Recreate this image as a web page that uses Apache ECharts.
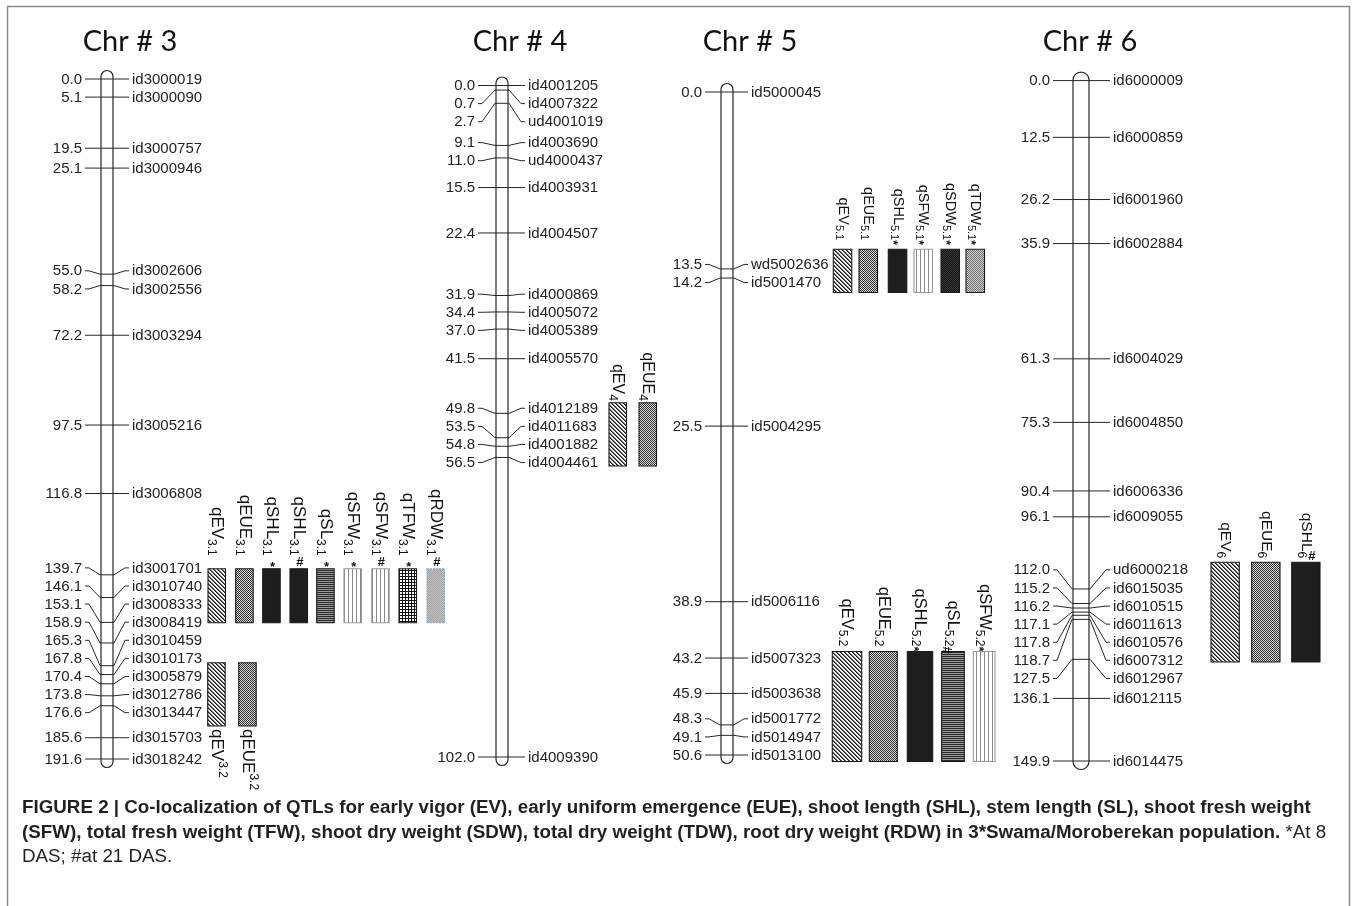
<!DOCTYPE html>
<html><head><meta charset="utf-8">
<script src="https://cdn.jsdelivr.net/npm/echarts@6/dist/echarts.min.js"></script>
<style>html,body{margin:0;padding:0;background:#fff}#c{width:1358px;height:906px}</style>
</head><body><div id="c"></div><script>
// ---------------- DATA ----------------
const chromTitles = ['Chr # 3', 'Chr # 4', 'Chr # 5', 'Chr # 6'];

const chr3Pos = [0.0, 5.1, 19.5, 25.1, 55.0, 58.2, 72.2, 97.5, 116.8, 139.7, 146.1, 153.1, 158.9, 165.3, 167.8, 170.4, 173.8, 176.6, 185.6, 191.6];
const chr3Markers = ['id3000019', 'id3000090', 'id3000757', 'id3000946', 'id3002606', 'id3002556', 'id3003294', 'id3005216', 'id3006808', 'id3001701', 'id3010740', 'id3008333', 'id3008419', 'id3010459', 'id3010173', 'id3005879', 'id3012786', 'id3013447', 'id3015703', 'id3018242'];

const chr4Pos = [0.0, 0.7, 2.7, 9.1, 11.0, 15.5, 22.4, 31.9, 34.4, 37.0, 41.5, 49.8, 53.5, 54.8, 56.5, 102.0];
const chr4Markers = ['id4001205', 'id4007322', 'ud4001019', 'id4003690', 'ud4000437', 'id4003931', 'id4004507', 'id4000869', 'id4005072', 'id4005389', 'id4005570', 'id4012189', 'id4011683', 'id4001882', 'id4004461', 'id4009390'];

const chr5Pos = [0.0, 13.5, 14.2, 25.5, 38.9, 43.2, 45.9, 48.3, 49.1, 50.6];
const chr5Markers = ['id5000045', 'wd5002636', 'id5001470', 'id5004295', 'id5006116', 'id5007323', 'id5003638', 'id5001772', 'id5014947', 'id5013100'];

const chr6Pos = [0.0, 12.5, 26.2, 35.9, 61.3, 75.3, 90.4, 96.1, 112.0, 115.2, 116.2, 117.1, 117.8, 118.7, 127.5, 136.1, 149.9];
const chr6Markers = ['id6000009', 'id6000859', 'id6001960', 'id6002884', 'id6004029', 'id6004850', 'id6006336', 'id6009055', 'ud6000218', 'id6015035', 'id6010515', 'id6011613', 'id6010576', 'id6007312', 'id6012967', 'id6012115', 'id6014475'];

// QTL groups: interval (cM), names, marks, traits
const q31Range = [138.0, 153.2];
const q31Names = ['qEV', 'qEUE', 'qSHL', 'qSHL', 'qSL', 'qSFW', 'qSFW', 'qTFW', 'qRDW'];
const q31Marks = ['', '', '*', '#', '*', '*', '#', '*', '#'];
const q31Traits = ['EV', 'EUE', 'SHL', 'SHL', 'SL', 'SFW', 'SFW', 'TFW', 'RDW'];

const q32Range = [164.5, 182.3];
const q32Names = ['qEV', 'qEUE'];
const q32Marks = ['', ''];
const q32Traits = ['EV', 'EUE'];

const q4Range = [48.2, 57.8];
const q4Names = ['qEV', 'qEUE'];
const q4Marks = ['', ''];
const q4Traits = ['EV', 'EUE'];

const q51Range = [12.0, 15.3];
const q51Names = ['qEV', 'qEUE', 'qSHL', 'qSFW', 'qSDW', 'qTDW'];
const q51Marks = ['', '', '*', '*', '*', '*'];
const q51Traits = ['EV', 'EUE', 'SHL', 'SFW', 'SDW', 'TDW'];

const q52Range = [42.7, 51.1];
const q52Names = ['qEV', 'qEUE', 'qSHL', 'qSL', 'qSFW'];
const q52Marks = ['', '', '*', '#', '*'];
const q52Traits = ['EV', 'EUE', 'SHL', 'SL', 'SFW'];

const q6Range = [106.1, 128.1];
const q6Names = ['qEV', 'qEUE', 'qSHL'];
const q6Marks = ['', '', '#'];
const q6Traits = ['EV', 'EUE', 'SHL'];

const captionLine1 = 'FIGURE 2 | Co-localization of QTLs for early vigor (EV), early uniform emergence (EUE), shoot length (SHL), stem length (SL), shoot fresh weight';
const captionLine2Bold = '(SFW), total fresh weight (TFW), shoot dry weight (SDW), total dry weight (TDW), root dry weight (RDW) in 3*Swama/Moroberekan population.';
const captionLine2Normal = ' *At 8';
const captionLine3 = 'DAS; #at 21 DAS.';

// ---------------- LAYOUT (pixels) ----------------
const CHROMS = [
  {pos: chr3Pos, markers: chr3Markers},
  {pos: chr4Pos, markers: chr4Markers},
  {pos: chr5Pos, markers: chr5Markers},
  {pos: chr6Pos, markers: chr6Markers}
];
const LAYOUT = [
  {top: 79, bottom: 759, bodyL: 101, bodyR: 113, leftText: 82, rightText: 132, titleX: 130},
  {top: 85.5, bottom: 757, bodyL: 496, bodyR: 508, leftText: 475, rightText: 528, titleX: 520},
  {top: 92, bottom: 755, bodyL: 721, bodyR: 733, leftText: 702, rightText: 751, titleX: 750},
  {top: 80.6, bottom: 761, bodyL: 1073, bodyR: 1089, leftText: 1050, rightText: 1113, titleX: 1090}
];
const QTL_GROUPS = [
  {chrom: 0, range: q31Range, names: q31Names, marks: q31Marks, traits: q31Traits, sub: '3.1',
   xs: [208, 235.7, 262.7, 290, 316.7, 344, 371.7, 399, 427], ws: 17.5,
   font: 17, subFont: 12, gap: 13, subDx: -5, markMode: 'sup', markDx: 1, below: false},
  {chrom: 0, range: q32Range, names: q32Names, marks: q32Marks, traits: q32Traits, sub: '3.2',
   xs: [207.7, 238.7], ws: 17.5,
   font: 17, subFont: 12, gap: 3, subDx: 6, markMode: 'sup', markDx: 1, below: true},
  {chrom: 1, range: q4Range, names: q4Names, marks: q4Marks, traits: q4Traits, sub: '4',
   xs: [609, 639], ws: 17.5,
   font: 16, subFont: 12, gap: 2, subDx: -5, markMode: 'sup', markDx: 1, below: false},
  {chrom: 2, range: q51Range, names: q51Names, marks: q51Marks, traits: q51Traits, sub: '5.1',
   xs: [833.3, 859, 888.3, 914, 941, 966], ws: 18.5,
   font: 14.5, subFont: 11, gap: 9, subDx: -4, markMode: 'inline', markDx: 0, below: false},
  {chrom: 2, range: q52Range, names: q52Names, marks: q52Marks, traits: q52Traits, sub: '5.2',
   xs: [832.3, 869.3, 907.3, 941.7, 973.3], ws: [29.4, 28, 25.4, 22.6, 21.7],
   font: 16.5, subFont: 12, gap: 5, subDx: -5, markMode: 'inline', markDx: 0, below: false},
  {chrom: 3, range: q6Range, names: q6Names, marks: q6Marks, traits: q6Traits, sub: '6',
   xs: [1211, 1251.7, 1291.7], ws: 28.3,
   font: 15.5, subFont: 12, gap: 4, subDx: -5, markMode: 'sup', markDx: 6, below: false}
];

const FONT = '"Liberation Sans", Arial, Helvetica, sans-serif';
const LINE = '#262626';
const LABEL_GAP = 18.1;

const mctx = document.createElement('canvas').getContext('2d');
function tw(text, size, weight) {
  mctx.font = (weight || 'normal') + ' ' + size + 'px ' + FONT;
  return mctx.measureText(text).width;
}

// ---------------- PATTERNS ----------------
function tile(w, h, draw) {
  const c = document.createElement('canvas');
  c.width = w; c.height = h;
  const g = c.getContext('2d');
  draw(g);
  return {image: c, repeat: 'repeat'};
}
function px(g, color, cells) { g.fillStyle = color; cells.forEach(p => g.fillRect(p[0], p[1], 1, 1)); }
const PATTERNS = {
  EV: tile(4, 4, g => {
    g.fillStyle = '#f4f4f4'; g.fillRect(0, 0, 4, 4);
    px(g, '#1a1a1a', [[0,0],[1,1],[2,2],[3,3]]);
    px(g, '#666', [[1,0],[2,1],[3,2],[0,3]]);
  }),
  EUE: tile(2, 2, g => {
    g.fillStyle = '#dedede'; g.fillRect(0, 0, 2, 2);
    px(g, '#2a2a2a', [[0,0],[1,1]]);
  }),
  SHL: '#1e1e1e',
  SL: tile(2, 2, g => {
    g.fillStyle = '#2a2a2a'; g.fillRect(0, 0, 2, 1);
    g.fillStyle = '#9a9a9a'; g.fillRect(0, 1, 2, 1);
  }),
  SFW: tile(4, 2, g => {
    g.fillStyle = '#fff'; g.fillRect(0, 0, 4, 2);
    g.fillStyle = '#8a8a8a'; g.fillRect(0, 0, 1, 2);
  }),
  TFW: tile(3, 3, g => {
    g.fillStyle = '#111'; g.fillRect(0, 0, 3, 3);
    g.fillStyle = '#fff'; g.fillRect(1, 1, 2, 2);
  }),
  SDW: tile(2, 2, g => {
    g.fillStyle = '#121212'; g.fillRect(0, 0, 2, 2);
    px(g, '#3a3a3a', [[0,0],[1,1]]);
  }),
  TDW: tile(2, 2, g => {
    g.fillStyle = '#d0d0d0'; g.fillRect(0, 0, 2, 2);
    px(g, '#707070', [[0,0],[1,1]]);
  }),
  RDW: tile(2, 2, g => {
    g.fillStyle = '#bdbdbd'; g.fillRect(0, 0, 2, 2);
    px(g, '#a8a8a8', [[0,0],[1,1]]);
  })
};
const BORDERS = {SFW: '#9a9a9a', RDW: '#8fa3b8'};

// ---------------- LABEL LAYOUT ----------------
function layoutLabels(ys, gap, lo, hi) {
  const place = c => {
    const n = c.b - c.a;
    const mid = (ys[c.a] + ys[c.b]) / 2;
    let top = mid - n * gap / 2;
    if (top < lo) top = lo;
    if (top + n * gap > hi) top = hi - n * gap;
    c.top = top;
  };
  let cl = ys.map((y, i) => ({a: i, b: i}));
  cl.forEach(place);
  let changed = true;
  while (changed) {
    changed = false;
    for (let i = 0; i < cl.length - 1; i++) {
      const c = cl[i], d = cl[i + 1];
      if (c.top + (c.b - c.a) * gap + gap > d.top + 0.01) {
        const m = {a: c.a, b: d.b};
        place(m);
        cl.splice(i, 2, m);
        changed = true;
        break;
      }
    }
  }
  const out = [];
  cl.forEach(c => { for (let i = c.a; i <= c.b; i++) out[i] = c.top + (i - c.a) * gap; });
  return out;
}

// ---------------- SERIES ----------------
function bodySeries(ci) {
  const L = LAYOUT[ci], ch = CHROMS[ci];
  const last = ch.pos[ch.pos.length - 1];
  return {
    type: 'custom', xAxisIndex: ci, yAxisIndex: ci, z: 1, silent: true, clip: false,
    data: [[0, 0, last]], encode: {x: 0, y: 1},
    renderItem: (params, api) => {
      const y0 = api.coord([0, api.value(1)])[1];
      const y1 = api.coord([0, api.value(2)])[1];
      const w = L.bodyR - L.bodyL;
      return {type: 'rect', shape: {x: L.bodyL, y: y0 - 8.5, width: w, height: y1 - y0 + 17, r: w / 2},
        style: {fill: '#fff', stroke: LINE, lineWidth: 1.2}};
    }
  };
}

function markerSeries(ci) {
  const L = LAYOUT[ci], ch = CHROMS[ci];
  return {
    type: 'custom', xAxisIndex: ci, yAxisIndex: ci, z: 3, silent: true, clip: false,
    data: ch.pos.map((p, i) => [i, p]), encode: {x: 0, y: 1},
    renderItem: (params, api) => {
      const i = api.value(0);
      const ys = ch.pos.map(p => api.coord([0, p])[1]);
      const lys = layoutLabels(ys, LABEL_GAP, ys[0], ys[ys.length - 1]);
      const my = ys[i], ly = lys[i];
      const txt = {fontSize: 15, fontFamily: FONT, fill: '#222', verticalAlign: 'middle'};
      return {type: 'group', children: [
        {type: 'polyline', shape: {points: [[L.leftText + 3, ly], [L.leftText + 7, ly], [L.bodyL - 1, my], [L.bodyR + 1, my], [L.rightText - 7, ly], [L.rightText - 3, ly]]},
          style: {stroke: LINE, lineWidth: 1, fill: 'none'}},
        {type: 'text', x: L.leftText, y: ly + 0.5, style: Object.assign({text: ch.pos[i].toFixed(1), align: 'right'}, txt)},
        {type: 'text', x: L.rightText, y: ly + 0.5, style: Object.assign({text: ch.markers[i], align: 'left'}, txt)}
      ]};
    }
  };
}

function qtlLabelEls(cx, boxTop, boxBot, name, sub, mark, G) {
  const els = [];
  const wM = tw(name, G.font), wS = tw(sub, G.subFont);
  const start = G.below ? boxBot + G.gap : boxTop - G.gap - wS - wM;
  const base = {fontFamily: FONT, fill: '#111', align: 'left', verticalAlign: 'middle'};
  els.push({type: 'text', x: cx, y: start, rotation: -Math.PI / 2,
    style: Object.assign({text: name, fontSize: G.font}, base)});
  els.push({type: 'text', x: cx + G.subDx, y: start + wM, rotation: -Math.PI / 2,
    style: Object.assign({text: sub, fontSize: G.subFont}, base)});
  if (mark) {
    if (G.markMode === 'inline') {
      els.push({type: 'text', x: cx + G.subDx - 1, y: start + wM + wS, rotation: -Math.PI / 2,
        style: Object.assign({text: mark, fontSize: G.subFont + 1, fontWeight: 'bold'}, base)});
    } else {
      els.push({type: 'text', x: cx + G.markDx, y: boxTop - (mark === '*' ? 1 : 6),
        style: {text: mark, fontSize: 13, fontWeight: 'bold', fontFamily: FONT, fill: '#111', align: 'center', verticalAlign: 'middle'}});
    }
  }
  return els;
}

function qtlSeries(G) {
  return {
    type: 'custom', xAxisIndex: G.chrom, yAxisIndex: G.chrom, z: 4, silent: true, clip: false,
    data: G.names.map((n, k) => [k, G.range[0], G.range[1]]), encode: {x: 0, y: 1},
    renderItem: (params, api) => {
      const k = api.value(0);
      const yTop = api.coord([0, api.value(1)])[1];
      const yBot = api.coord([0, api.value(2)])[1];
      const x = G.xs[k];
      const w = Array.isArray(G.ws) ? G.ws[k] : G.ws;
      const trait = G.traits[k];
      const rect = {type: 'rect', shape: {x: x, y: yTop, width: w, height: yBot - yTop},
        style: {fill: PATTERNS[trait], stroke: BORDERS[trait] || '#1a1a1a', lineWidth: 1.1,
          lineDash: trait === 'RDW' ? [2, 1] : null}};
      return {type: 'group', children: [rect].concat(
        qtlLabelEls(x + w / 2, yTop, yBot, G.names[k], G.sub, G.marks[k], G))};
    }
  };
}

// ---------------- OPTION ----------------
const grids = LAYOUT.map(L => ({left: 0, width: 1358, top: L.top, height: L.bottom - L.top}));
const xAxes = LAYOUT.map((L, i) => ({type: 'value', gridIndex: i, min: 0, max: 1358, show: false}));
const yAxes = CHROMS.map((c, i) => ({type: 'value', gridIndex: i, min: 0, max: c.pos[c.pos.length - 1], inverse: true, show: false}));

const series = [];
CHROMS.forEach((c, i) => { series.push(bodySeries(i)); series.push(markerSeries(i)); });
QTL_GROUPS.forEach(G => series.push(qtlSeries(G)));

const graphics = [
  {type: 'rect', shape: {x: 7.5, y: 6.5, width: 1342, height: 940}, style: {fill: 'none', stroke: '#8a8a8a', lineWidth: 1.5}, silent: true}
];
chromTitles.forEach((t, i) => graphics.push({type: 'text', x: LAYOUT[i].titleX, y: 42,
  style: {text: t, fontSize: 29, fontFamily: 'Lato, "Open Sans", sans-serif', fill: '#111', align: 'center', verticalAlign: 'middle'}}));
const CAP = 18.8;
const capBold = {fontSize: CAP, fontWeight: 'bold', fontFamily: FONT, fill: '#231f20'};
const capNorm = {fontSize: CAP, fontWeight: 'normal', fontFamily: FONT, fill: '#231f20'};
graphics.push({type: 'text', x: 22, y: 808, style: Object.assign({text: captionLine1, verticalAlign: 'middle'}, capBold)});
graphics.push({type: 'text', x: 22, y: 833, style: {text: '{b|' + captionLine2Bold + '}{n|' + captionLine2Normal + '}', verticalAlign: 'middle',
  rich: {b: capBold, n: capNorm}}});
graphics.push({type: 'text', x: 22, y: 857, style: Object.assign({text: captionLine3, verticalAlign: 'middle'}, capNorm)});

const chart = echarts.init(document.getElementById('c'), null, {renderer: 'canvas', width: 1358, height: 906});
chart.setOption({
  animation: false,
  backgroundColor: '#fff',
  grid: grids, xAxis: xAxes, yAxis: yAxes,
  series: series,
  graphic: graphics
});
</script></body></html>
